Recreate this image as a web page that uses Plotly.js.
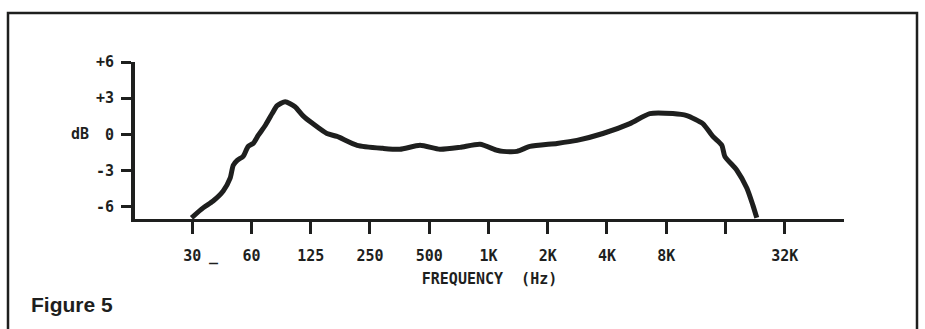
<!DOCTYPE html>
<html>
<head>
<meta charset="utf-8">
<script src="https://cdn.plot.ly/plotly-3.0.1.min.js"></script>
<style>
html,body{margin:0;padding:0;background:#fff;}
#chart{width:925px;height:329px;}
</style>
</head>
<body>
<div id="chart"></div>
<script>
// Frequency response data
const freqHz = [31, 35.5, 39.9, 44.9, 48.7, 50.5, 52.9, 56.7, 60.1, 63.8, 67.6, 73.4, 79.6, 84.4, 92.7, 104, 114, 128, 151, 170, 215, 291, 355, 449, 567, 717, 906, 1105, 1185, 1396, 1624, 2228, 2813, 3813, 5228, 6603, 8640, 10175, 12270, 13794, 15328, 15875, 18266, 20528, 22012, 23072];
const levelDb = [-6.9, -6.08, -5.51, -4.68, -3.62, -2.55, -2.14, -1.81, -0.99, -0.74, -0.08, 0.74, 1.73, 2.38, 2.71, 2.30, 1.56, 0.90, 0.08, -0.16, -0.90, -1.15, -1.23, -0.90, -1.23, -1.07, -0.82, -1.31, -1.40, -1.40, -0.99, -0.74, -0.49, 0.08, 0.90, 1.73, 1.73, 1.56, 0.90, -0.16, -0.90, -1.81, -2.96, -4.44, -5.83, -6.9];

const xTickVals = [31.25, 62.5, 125, 250, 500, 1000, 2000, 4000, 8000, 16000, 32000];
const xTickText = ['30', '60', '125', '250', '500', '1K', '2K', '4K', '8K', '', '32K'];
const yTickVals = [6, 3, 0, -3, -6];
const yTickText = ['+6', '+3', '0', '-3', '-6'];

const ink = '#1e1f1e';
const monoFont = {family: '"DejaVu Sans Mono", "Liberation Mono", monospace', size: 15, color: ink, weight: 'bold'};

const trace = {
  x: freqHz,
  y: levelDb,
  type: 'scatter',
  mode: 'lines',
  line: {color: ink, width: 5, shape: 'spline', smoothing: 0.6},
  hoverinfo: 'skip',
  cliponaxis: false
};

const layout = {
  width: 925,
  height: 329,
  margin: {l: 135, r: 81, t: 62, b: 110},
  paper_bgcolor: '#ffffff',
  plot_bgcolor: '#ffffff',
  showlegend: false,
  xaxis: {
    type: 'log',
    range: [Math.log10(16), Math.log10(64000)],
    tickmode: 'array',
    tickvals: xTickVals,
    ticktext: xTickText,
    ticks: 'outside',
    ticklen: 12,
    tickwidth: 3,
    tickcolor: ink,
    showline: true,
    linewidth: 3,
    linecolor: ink,
    showgrid: false,
    zeroline: false,
    tickfont: monoFont,
    ticklabelstandoff: 9,
    title: {text: 'FREQUENCY  (Hz)', font: {family: monoFont.family, size: 15, color: ink, weight: 'bold'}, standoff: 10}
  },
  yaxis: {
    range: [-7, 6],
    tickmode: 'array',
    tickvals: yTickVals,
    ticktext: yTickText,
    ticks: 'outside',
    ticklen: 10,
    tickwidth: 3,
    tickcolor: ink,
    showline: true,
    linewidth: 4,
    linecolor: ink,
    showgrid: false,
    zeroline: false,
    tickfont: monoFont,
    ticklabelstandoff: 4
  },
  annotations: [
    {text: 'dB', xref: 'paper', x: (80 - 135) / 709, xanchor: 'center', yref: 'y', y: 0, yanchor: 'middle', showarrow: false, font: monoFont},
    {text: '_', xref: 'x', x: Math.log10(40.5), xanchor: 'center', yref: 'paper', y: (219 - 256) / 157, yanchor: 'middle', showarrow: false, font: monoFont},
    {text: 'Figure 5', xref: 'paper', x: (29 - 135) / 709, xanchor: 'left', yref: 'paper', y: (219 - 304) / 157, yanchor: 'middle', showarrow: false,
     font: {family: '"Liberation Sans", Arial, sans-serif', size: 21, color: ink, weight: 'bold'}}
  ],
  shapes: [
    {type: 'rect', xref: 'paper', yref: 'paper', x0: (8 - 135) / 709, x1: (917 - 135) / 709, y0: (219 - 340) / 157, y1: (219 - 13) / 157,
     line: {color: ink, width: 2.5}, fillcolor: 'rgba(0,0,0,0)', layer: 'below'}
  ]
};

Plotly.newPlot('chart', [trace], layout, {displayModeBar: false, staticPlot: true});
</script>
</body>
</html>
